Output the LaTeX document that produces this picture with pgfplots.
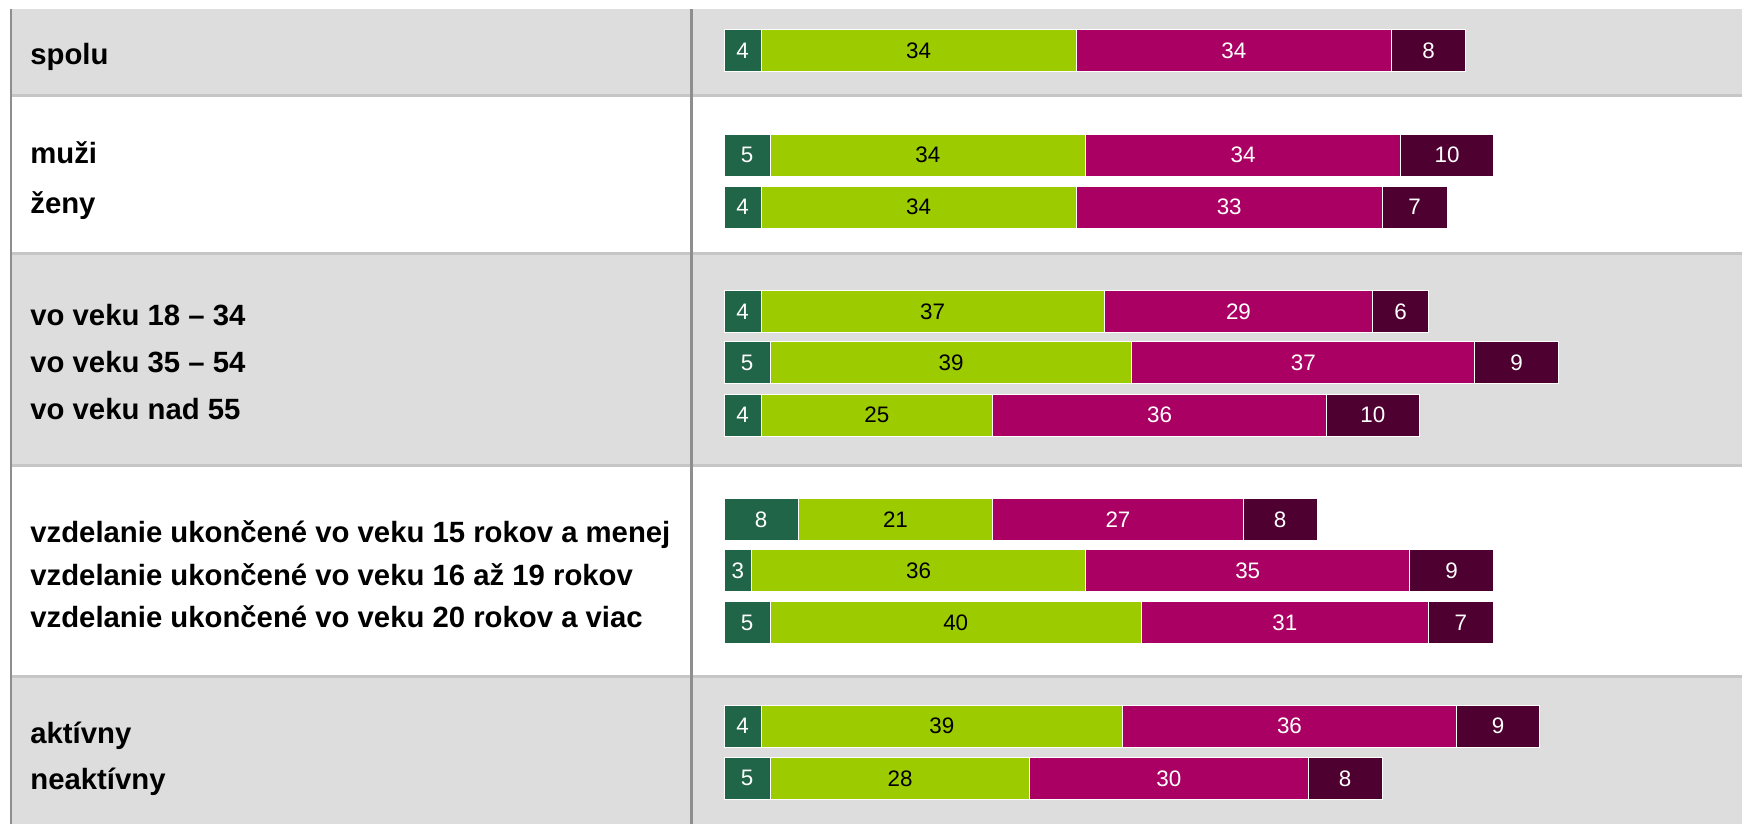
\documentclass[border=0pt]{standalone}
\usepackage{pgfplots}
\pgfplotsset{compat=1.18}
\usepackage{pgfplotstable}
\usepackage{fontspec}
\setmainfont{Liberation Sans}
\definecolor{cA}{HTML}{216548}
\definecolor{cB}{HTML}{9CCB00}
\definecolor{cC}{HTML}{AA0064}
\definecolor{cD}{HTML}{4E0030}
\definecolor{band}{HTML}{DDDDDD}
\definecolor{sep}{HTML}{C6C6C6}
\definecolor{vline}{HTML}{8E8E8E}

\pgfplotstableread{
y a b c d
50.6 4 34 34 8
155.0 5 34 34 10
207.2 4 34 33 7
311.7 4 37 29 6
362.8 5 39 37 9
415.0 4 25 36 10
519.4 8 21 27 8
570.5 3 36 35 9
622.7 5 40 31 7
726.0 4 39 36 9
778.3 5 28 30 8
}\data

\pgfplotsset{
  base/.style={
    at={(362pt,0pt)}, anchor=north west,
    scale only axis, width=509pt, height=412pt,
    xmin=0, xmax=109.82, ymin=0, ymax=824, y dir=reverse,
    hide axis, clip=false,
  },
}

\begin{document}
\begin{tikzpicture}
\useasboundingbox (0,0) rectangle (871pt,-412pt);
\begin{scope}[x=0.5pt,y=-0.5pt]
\fill[white] (0,0) rectangle (1742,824);
\fill[band] (11,9) rectangle (1742,95.5);
\fill[band] (11,253) rectangle (1742,465.5);
\fill[band] (11,676.5) rectangle (1742,824);
\foreach \yy in {95.5,253,465.5,676.5} \draw[sep, line width=1.5pt] (11,\yy) -- (1742,\yy);
\draw[vline, line width=1.2pt] (11,9) -- (11,824);
\draw[vline, line width=1.5pt] (691,9) -- (691,824);
\end{scope}
\begin{scope}[x=0.5pt,y=-0.5pt, every node/.style={anchor=base west, inner sep=0pt, font=\fontsize{14.65}{17}\selectfont\bfseries}]
\node at (30,64.3) {spolu};
\node at (30,163.8) {muži};
\node at (30,213.3) {ženy};
\node at (30,325.5) {vo veku 18 – 34};
\node at (30,372.7) {vo veku 35 – 54};
\node at (30,419.3) {vo veku nad 55};
\node at (30,542.2) {vzdelanie ukončené vo veku 15 rokov a menej};
\node at (30,585.7) {vzdelanie ukončené vo veku 16 až 19 rokov};
\node at (30,627.7) {vzdelanie ukončené vo veku 20 rokov a viac};
\node at (30,743.9) {aktívny};
\node at (30,789.4) {neaktívny};
\end{scope}
\begin{axis}[base, xbar stacked, bar width=42]
\addplot[fill=cA, draw=white, line width=0.5pt] table[x=a,y=y]{\data};
\addplot[fill=cB, draw=white, line width=0.5pt] table[x=b,y=y]{\data};
\addplot[fill=cC, draw=white, line width=0.5pt] table[x=c,y=y]{\data};
\addplot[fill=cD, draw=white, line width=0.5pt] table[x=d,y=y]{\data};
\end{axis}
\begin{axis}[base, nodes near coords, point meta=explicit symbolic,
  every node near coord/.append style={anchor=center, font=\fontsize{11.2}{13}\selectfont}]
\addplot[draw=none, mark=none, every node near coord/.append style={text=white}]
  table[x expr=\thisrow{a}/2, y=y, meta=a]{\data};
\addplot[draw=none, mark=none, every node near coord/.append style={text=black}]
  table[x expr=\thisrow{a}+\thisrow{b}/2, y=y, meta=b]{\data};
\addplot[draw=none, mark=none, every node near coord/.append style={text=white}]
  table[x expr=\thisrow{a}+\thisrow{b}+\thisrow{c}/2, y=y, meta=c]{\data};
\addplot[draw=none, mark=none, every node near coord/.append style={text=white}]
  table[x expr=\thisrow{a}+\thisrow{b}+\thisrow{c}+\thisrow{d}/2, y=y, meta=d]{\data};
\end{axis}
\end{tikzpicture}
\end{document}
